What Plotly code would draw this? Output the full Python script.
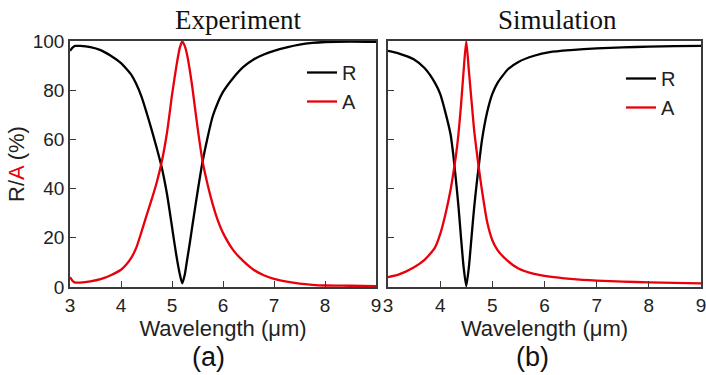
import plotly.graph_objects as go

# ---------------- data ----------------
exp_wl = [3.0, 3.05, 3.1, 3.2, 3.4, 3.6, 3.8, 4.0, 4.1, 4.2, 4.3, 4.4, 4.5, 4.6, 4.7,
          4.8, 4.9, 5.0, 5.05, 5.1, 5.15, 5.2, 5.25, 5.3, 5.35, 5.4, 5.5, 5.6, 5.7,
          5.8, 5.9, 6.0, 6.2, 6.4, 6.6, 6.8, 7.0, 7.25, 7.5, 7.75, 8.0, 8.5, 9.0]
exp_R = [96, 97.3, 98, 98, 97.5, 96.3, 94, 91, 88.8, 86.3, 82.5, 77.5, 71, 64, 56.5,
         48.5, 38, 24.5, 17.5, 11, 5.5, 1.5, 5, 11.5, 18, 25, 38.5, 51, 61,
         69.5, 75, 79.3, 85, 89.5, 92.5, 94.5, 96, 97.4, 98.5, 99.2, 99.6, 99.8, 99.7]
exp_A = [4, 2.5, 1.8, 1.8, 2.3, 3.2, 4.8, 7, 9, 11.8, 16, 22.3, 29, 35.5, 42.5,
         51, 62.5, 78, 85, 91.5, 97, 99.8, 98, 94, 88, 81, 65, 51, 41.5,
         33.5, 27, 22, 15, 10.5, 7, 4.8, 3.3, 2.2, 1.4, 0.9, 0.6, 0.5, 0.3]

sim_wl = [3.0, 3.2, 3.5, 3.7, 3.9, 4.0, 4.1, 4.2, 4.25, 4.3, 4.35, 4.4, 4.45, 4.5,
          4.55, 4.6, 4.65, 4.7, 4.75, 4.8, 4.9, 5.0, 5.1, 5.3, 5.5, 5.8, 6.1, 6.5,
          7.0, 7.5, 8.0, 8.5, 9.0]
sim_R = [96, 95, 92.5, 89, 83, 78.5, 71, 62, 54, 44, 33, 20, 8, 0.3,
         8, 20, 32, 42, 51, 59.5, 71, 78.5, 83, 88.5, 91.5, 94, 95.5, 96.3,
         97, 97.4, 97.7, 97.9, 98]
sim_A = [4, 5, 8, 11, 16, 21.5, 29.5, 39.5, 46, 53, 62, 74, 88, 100,
         88, 76, 64, 55, 47, 39.5, 26.5, 19, 15, 10.5, 7.5, 5.3, 4.2, 3.3,
         2.6, 2.2, 1.9, 1.7, 1.5]

x_ticks = [3, 4, 5, 6, 7, 8, 9]
y_ticks = [0, 20, 40, 60, 80, 100]

FONT = "Arial, Liberation Sans, sans-serif"
SERIF = "Times New Roman, Liberation Serif, serif"
AXC = "#3a3a3a"
RED = "#e8000b"

fig = go.Figure()
LW = 2.3
SM = 0.6
fig.add_trace(go.Scatter(x=exp_wl, y=exp_R, mode="lines", name="R",
                         line=dict(color="black", width=LW, shape="spline", smoothing=SM),
                         xaxis="x", yaxis="y", legend="legend"))
fig.add_trace(go.Scatter(x=exp_wl, y=exp_A, mode="lines", name="A",
                         line=dict(color=RED, width=LW, shape="spline", smoothing=SM),
                         xaxis="x", yaxis="y", legend="legend"))
fig.add_trace(go.Scatter(x=sim_wl, y=sim_R, mode="lines", name="R",
                         line=dict(color="black", width=LW, shape="spline", smoothing=SM),
                         xaxis="x2", yaxis="y2", legend="legend2"))
fig.add_trace(go.Scatter(x=sim_wl, y=sim_A, mode="lines", name="A",
                         line=dict(color=RED, width=LW, shape="spline", smoothing=SM),
                         xaxis="x2", yaxis="y2", legend="legend2"))

W, H = 706, 375
ydom = [1 - 287 / H, 1 - 41 / H]
common_x = dict(range=[3, 9], tickvals=x_ticks, ticks="inside", ticklen=6, tickcolor=AXC,
                showline=True, linecolor=AXC, linewidth=1.5, mirror=True, showgrid=False,
                zeroline=False, automargin=False, ticklabeloverflow="allow",
                tickfont=dict(family=FONT, size=19, color="#222"))
common_y = dict(range=[0, 100], tickvals=y_ticks, ticks="inside", ticklen=6, tickcolor=AXC,
                showline=True, linecolor=AXC, linewidth=1.5, mirror=True, showgrid=False,
                zeroline=False, automargin=False, ticklabeloverflow="allow",
                tickfont=dict(family=FONT, size=19, color="#222"), domain=ydom)

fig.update_layout(
    width=W, height=H, margin=dict(l=0, r=0, t=0, b=0, autoexpand=False),
    paper_bgcolor="white", plot_bgcolor="white",
    xaxis=dict(domain=[70 / W, 376 / W], anchor="y",
               title=dict(text="Wavelength (\u03bcm)", font=dict(family=FONT, size=22, color="#222"), standoff=4),
               **common_x),
    yaxis=dict(anchor="x",
               title=dict(text="R/<span style='color:#e8000b'>A</span> (%)",
                          font=dict(family=FONT, size=22, color="#222"), standoff=2),
               **common_y),
    xaxis2=dict(domain=[388 / W, 701 / W], anchor="y2",
                title=dict(text="Wavelength (\u03bcm)", font=dict(family=FONT, size=22, color="#222"), standoff=4),
                **common_x),
    yaxis2=dict(anchor="x2", showticklabels=False, **common_y),
    legend=dict(x=302 / W, y=1 - 53 / H, xanchor="left", yanchor="top", bgcolor="rgba(0,0,0,0)",
                font=dict(family=FONT, size=20, color="#222"), itemwidth=30, tracegroupgap=0),
    legend2=dict(x=621 / W, y=1 - 59 / H, xanchor="left", yanchor="top", bgcolor="rgba(0,0,0,0)",
                 font=dict(family=FONT, size=20, color="#222"), itemwidth=30, tracegroupgap=0),
    annotations=[
        dict(text="Experiment", x=238 / W, y=1 - 20 / H, xref="paper", yref="paper", showarrow=False,
             font=dict(family=SERIF, size=27, color="#111"), xanchor="center", yanchor="middle"),
        dict(text="Simulation", x=557 / W, y=1 - 20 / H, xref="paper", yref="paper", showarrow=False,
             font=dict(family=SERIF, size=27, color="#111"), xanchor="center", yanchor="middle"),
        dict(text="(a)", x=208 / W, y=1 - 357 / H, xref="paper", yref="paper", showarrow=False,
             font=dict(family=FONT, size=27, color="#111"), xanchor="center", yanchor="middle"),
        dict(text="(b)", x=532 / W, y=1 - 357 / H, xref="paper", yref="paper", showarrow=False,
             font=dict(family=FONT, size=27, color="#111"), xanchor="center", yanchor="middle"),
    ],
)

fig.write_html("out.html")
